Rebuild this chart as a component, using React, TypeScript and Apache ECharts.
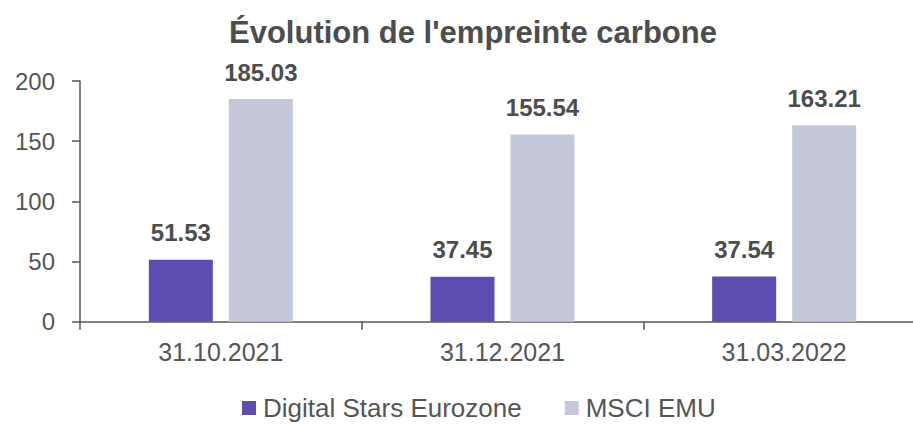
import React, { useEffect, useRef } from "react";
import * as echarts from "echarts";

const categories = ["31.10.2021", "31.12.2021", "31.03.2022"];
const digitalStars = [51.53, 37.45, 37.54];
const msciEmu = [185.03, 155.54, 163.21];
const seriesNames = ["Digital Stars Eurozone", "MSCI EMU"];
const titleText = "Évolution de l'empreinte carbone";

const FONT = "'Liberation Sans', Arial, Helvetica, sans-serif";
const AXIS = "#555555";
const TEXT = "#555555";

export default function App() {
  const ref = useRef<HTMLDivElement>(null);
  useEffect(() => {
    if (!ref.current) return;
    const chart = echarts.init(ref.current, undefined, { renderer: "svg" });
    const label = {
      show: true,
      position: "top",
      distance: 15,
      fontFamily: FONT,
      fontSize: 24,
      fontWeight: "bold",
      color: "#4d4d4d",
      formatter: (p: any) => p.value.toFixed(2),
    };
    chart.setOption({
      animation: false,
      textStyle: { fontFamily: FONT },
      title: {
        text: titleText,
        left: 224,
        top: 12,
        textStyle: { fontFamily: FONT, fontSize: 31, fontWeight: "bold", color: "#4d4d4d" },
      },
      legend: {
        data: seriesNames,
        left: 237,
        top: 390,
        itemWidth: 14,
        itemHeight: 14,
        itemGap: 43,
        icon: "rect",
        textStyle: { fontFamily: FONT, fontSize: 26, color: TEXT, padding: [0, 0, 0, 2] },
      },
      grid: { left: 80, right: 0, top: 81, bottom: 102.3, containLabel: false },
      xAxis: {
        type: "category",
        data: categories,
        axisLine: { show: true, lineStyle: { color: AXIS, width: 1.5 } },
        axisTick: { show: true, length: 8, lineStyle: { color: AXIS, width: 1.5 } },
        axisLabel: { fontFamily: FONT, fontSize: 25, color: TEXT, margin: 18 },
      },
      yAxis: {
        type: "value",
        min: 0,
        max: 200,
        interval: 50,
        axisLine: { show: true, lineStyle: { color: AXIS, width: 1.5 } },
        axisTick: { show: true, length: 8, lineStyle: { color: AXIS, width: 1.5 } },
        splitLine: { show: false },
        axisLabel: { fontFamily: FONT, fontSize: 24, color: TEXT, margin: 25 },
      },
      series: [
        {
          name: seriesNames[0],
          type: "bar",
          data: digitalStars,
          barWidth: 64,
          barGap: "25%",
          itemStyle: { color: "#5c4db1" },
          label,
        },
        {
          name: seriesNames[1],
          type: "bar",
          data: msciEmu,
          barWidth: 64,
          itemStyle: { color: "#c5c8da" },
          label,
        },
      ],
    });
    return () => chart.dispose();
  }, []);
  return (
    <div
      ref={ref}
      style={{ position: "fixed", left: 0, top: 0, width: 925, height: 424, background: "#fff" }}
    />
  );
}
